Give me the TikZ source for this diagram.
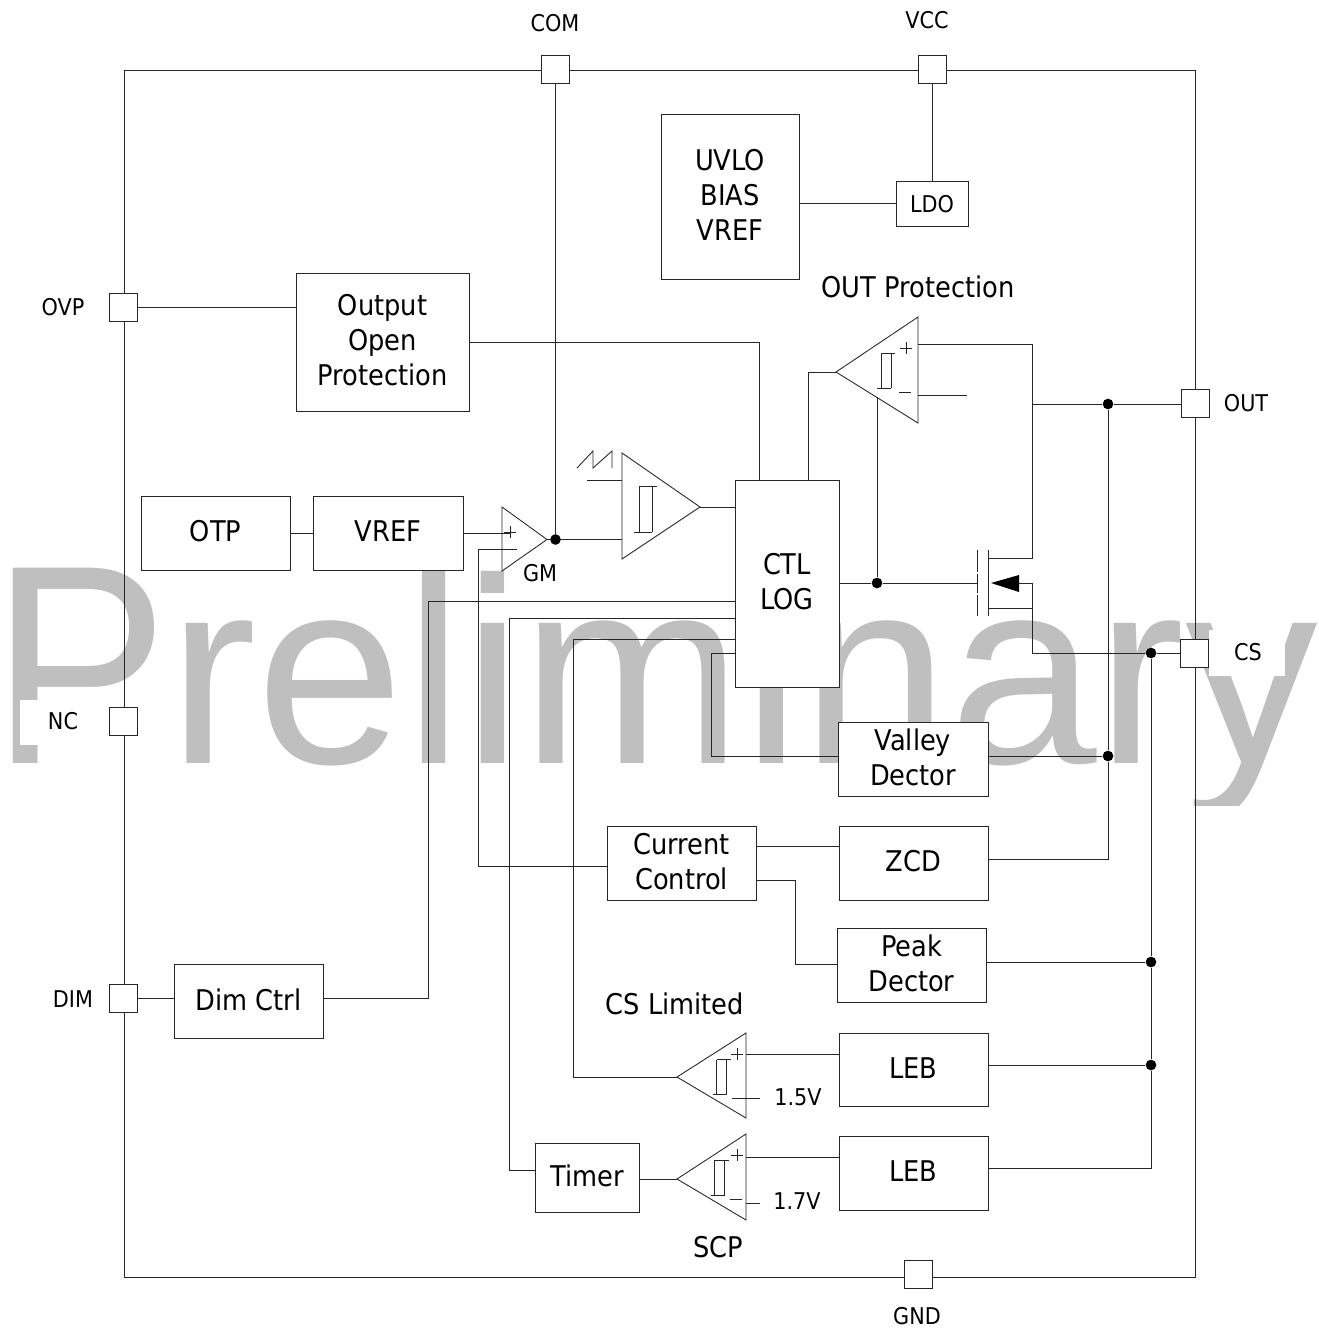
\documentclass[tikz,border=0pt]{standalone}
\usepackage{fontspec}
\setmainfont{DejaVu Sans Condensed}
\newfontfamily\wmfont{Liberation Sans}
\tikzset{
  wire/.style={line width=0.65pt,draw=black!85},
  wh/.style 2 args={minimum width=#1*0.75pt,minimum height=#2*0.75pt},
  blockbox/.style={wire,fill=white,inner sep=0pt,outer sep=0pt,align=center,text depth=2.5pt,font=\fontsize{21.4}{26.2}\selectfont},
  pinbox/.style={wire,fill=white,inner sep=0pt,outer sep=0pt,minimum size=21pt},
  pinlabel/.style={inner sep=0pt,font=\fontsize{17.3}{20}\selectfont},
  bigabel/.style={inner sep=0pt,font=\fontsize{21.4}{24}\selectfont},
  dotnode/.style={circle,fill=black,inner sep=0pt,minimum size=8pt},
  comparator/.style={wire,fill=white},
  hyst/.pic={
    \draw[wire] (-5,-17.5) -- (9,-17.5);
    \draw[wire] (-5,-17.5) -- (-5,17.5);
    \draw[wire] (5,-17.5) -- (5,17.5);
    \draw[wire] (-9,17.5) -- (5,17.5);
  },
  plussign/.pic={\draw[wire] (-6,0) -- (6,0) (0,-6) -- (0,6);},
  minussign/.pic={\draw[wire] (-6,0) -- (6,0);}
}
\begin{document}
\begin{tikzpicture}[x=0.75pt,y=-0.75pt]
  \useasboundingbox (0,0) rectangle (1318,1330);
  \begin{scope}
    \clip (0,0) rectangle (1318,805);
    \node[anchor=base west,inner sep=0pt,text=black!25,font=\wmfont\fontsize{199}{199}\selectfont] (watermark) at (-9,763) {\scalebox{1}[1.07]{P}reliminary};
  \end{scope}
  % chip outline and pins
  \node[wire,inner sep=0pt,outer sep=0pt,wh={1071}{1207}] (chip) at (659.5,673.5) {};
  \node[fill=white,inner sep=0pt,wh={90}{45}] (ncback) at (65,722.5) {};
  \node[fill=white,inner sep=0pt,wh={76}{46}] (csback) at (1247,653) {};
  \node[pinbox] (pincom) at (555.5,69) {};
  \node[pinbox] (pinvcc) at (932,69) {};
  \node[pinbox] (pinovp) at (123.5,307) {};
  \node[pinbox] (pinnc) at (123.5,721.5) {};
  \node[pinbox] (pindim) at (123.5,998) {};
  \node[pinbox] (pinout) at (1195,403.5) {};
  \node[pinbox] (pincs) at (1194.5,653) {};
  \node[pinbox] (pingnd) at (918,1274) {};
  \node[pinlabel] (lblcom) at (555,23) {COM};
  \node[pinlabel] (lblvcc) at (927,20) {VCC};
  \node[pinlabel] (lblovp) at (63,307) {OVP};
  \node[pinlabel] (lblnc) at (63,721) {NC};
  \node[pinlabel] (lbldim) at (73,999) {DIM};
  \node[pinlabel] (lblout) at (1246,403) {OUT};
  \node[pinlabel] (lblcs) at (1248,652) {CS};
  \node[pinlabel] (lblgnd) at (917,1316) {GND};
  % blocks
  \node[blockbox,draw,wh={138}{165}] (uvlo) at (730,196.5) {UVLO\\BIAS\\VREF};
  \node[blockbox,draw,wh={72}{45},text depth=0pt,font=\fontsize{17.3}{20}\selectfont] (ldo) at (932,203.5) {LDO};
  \node[blockbox,draw,wh={173}{138}] (outopen) at (382.5,342) {Output\\Open\\Protection};
  \node[blockbox,draw,wh={149}{74}] (otp) at (215.5,533) {OTP};
  \node[blockbox,draw,wh={150}{74}] (vref) at (388,533) {VREF};
  \node[blockbox,draw,wh={104}{207}] (ctl) at (787,583.5) {CTL\\LOG};
  \node[blockbox,draw,wh={150}{74}] (valley) at (913,759) {Valley\\Dector};
  \node[blockbox,draw,wh={149}{74}] (current) at (681.5,863) {Current\\Control};
  \node[blockbox,draw,wh={149}{74}] (zcd) at (913.5,863) {ZCD};
  \node[blockbox,draw,wh={149}{74}] (peak) at (911.5,965) {Peak\\Dector};
  \node[blockbox,draw,wh={149}{74}] (dimctrl) at (248.5,1001) {Dim Ctrl};
  \node[blockbox,draw,wh={149}{73}] (leba) at (913.5,1069.5) {LEB};
  \node[blockbox,draw,wh={149}{74}] (lebb) at (913.5,1173) {LEB};
  \node[blockbox,draw,wh={104}{69}] (timer) at (587,1177.5) {Timer};
  % comparators
  \coordinate (gmtip) at (547,539.5);
  \coordinate (ramptip) at (700,507);
  \coordinate (prottip) at (836,372);
  \coordinate (limtip) at (677,1077);
  \coordinate (scptip) at (677,1179);
  \draw[comparator] (502,507) -- (502,571) -- (gmtip) -- cycle;
  \draw[comparator] (622,453) -- (622,559) -- (ramptip) -- cycle;
  \draw[comparator] (918,317) -- (918,423) -- (prottip) -- cycle;
  \draw[comparator] (746,1033) -- (746,1118) -- (limtip) -- cycle;
  \draw[comparator] (746,1134) -- (746,1220) -- (scptip) -- cycle;
  \pic[scale=1.29] at (645.5,509.5) {hyst};
  \pic at (886,370.5) {hyst};
  \pic at (721.5,1077) {hyst};
  \pic at (719.5,1177.5) {hyst};
  \pic at (510,532) {plussign};
  \pic at (511,549) {minussign};
  \pic at (906,348) {plussign};
  \pic at (905,392) {minussign};
  \pic at (737,1054) {plussign};
  \pic at (738,1098) {minussign};
  \pic at (737,1155) {plussign};
  \pic at (736,1199) {minussign};
  % sawtooth
  \draw[wire] (577,468) -- (593,451) -- (593,468) -- (612,451) -- (612,468);
  % junctions
  \node[dotnode] (gmdot) at (555.5,539.5) {};
  \node[dotnode] (gatedot) at (877,583) {};
  \node[dotnode] (outdot) at (1108,404) {};
  \node[dotnode] (valleydot) at (1108,756) {};
  \node[dotnode] (csdot) at (1151,653) {};
  \node[dotnode] (peakdot) at (1151,962) {};
  \node[dotnode] (lebadot) at (1151,1065) {};
  % mosfet
  \coordinate (gate) at (977,583);
  \coordinate (drain) at (988,558);
  \coordinate (source) at (988,608);
  \coordinate (bodytip) at (991,583);
  \coordinate (bodybase) at (1019,583);
  \coordinate (mosnode) at (1032,404);
  \draw[wire] (977,550) -- (977,572) (977,574) -- (977,593) (977,595) -- (977,616);
  \draw[wire] (988,550) -- (988,616);
  \fill (bodytip) -- (1019,575) -- (1019,592) -- cycle;
  % connectors
  \coordinate (ctla) at (735,601);
  \coordinate (ctlb) at (735,618);
  \coordinate (ctlc) at (735,639);
  \coordinate (ctld) at (735,653);
  \coordinate (ctlnorthl) at (759,480);
  \coordinate (ctlnorthr) at (808,480);
  \coordinate (protplus) at (918,344);
  \coordinate (protminus) at (918,395);
  \coordinate (protsupply) at (877,397);
  \draw[wire] (pincom.south) -- (gmdot);
  \draw[wire] (pinvcc.south) -- (ldo.north);
  \draw[wire] (uvlo.east |- ldo.west) -- (ldo.west);
  \draw[wire] (pinovp.east) -- (pinovp.east -| outopen.west);
  \draw[wire] (outopen.east) -| (ctlnorthl);
  \draw[wire] (otp.east) -- (vref.west);
  \draw[wire] (vref.east) -- (510,533);
  \draw[wire] (gmtip) -- (gmdot) -- (622,539.5);
  \draw[wire] (587,480) -- (622,480);
  \draw[wire] (ramptip) -- (ramptip -| ctl.west);
  \draw[wire] (prottip) -| (ctlnorthr);
  \draw[wire] (protsupply) -- (gatedot);
  \draw[wire] (ctl.east |- gate) -- (gatedot) -- (gate);
  \draw[wire] (protplus) -| (drain -| mosnode) -- (drain);
  \draw[wire] (protminus) -- ++(49,0);
  \draw[wire] (mosnode) -- (outdot) -- (outdot -| pinout.west);
  \draw[wire] (bodybase) -- ++(13,0) |- (csdot);
  \draw[wire] (source) -- (source -| mosnode);
  \draw[wire] (csdot) -- (pincs.west);
  \draw[wire] (outdot) -- (valleydot) |- (zcd.east |- 0,859);
  \draw[wire] (valley.east |- valleydot) -- (valleydot);
  \draw[wire] (csdot) -- (peakdot) -- (lebadot) |- (lebb.east |- 0,1168);
  \draw[wire] (peak.east |- peakdot) -- (peakdot);
  \draw[wire] (leba.east |- lebadot) -- (lebadot);
  \draw[wire] (pindim.east) -- (pindim.east -| dimctrl.west);
  \draw[wire] (dimctrl.east |- pindim) -- ++(105,0) |- (ctla);
  \draw[wire] (ctlb) -- ++(-226,0) |- (timer.west |- 0,1170);
  \draw[wire] (ctlc) -- ++(-162,0) |- (limtip);
  \draw[wire] (ctld) -- ++(-24,0) |- (valley.west |- valleydot);
  \draw[wire] (511,549) -- (478,549) |- (current.west |- 0,866);
  \draw[wire] (current.east |- 0,846) -- (zcd.west |- 0,846);
  \draw[wire] (current.east |- 0,880) -- ++(39,0) |- (peak.west |- 0,964);
  \draw[wire] (leba.west |- 0,1054) -- (746,1054);
  \draw[wire] (lebb.west |- 0,1157) -- (746,1157);
  \draw[wire] (timer.east |- scptip) -- (scptip);
  \draw[wire] (738,1098) -- (760,1098);
  \draw[wire] (746,1203) -- (760,1203);
  % remaining labels
  \node[pinlabel] (lblgm) at (540,573) {GM};
  \node[pinlabel] (lblonefive) at (798,1097) {1.5V};
  \node[pinlabel] (lbloneseven) at (797,1201) {1.7V};
  \node[bigabel] (lblprot) at (918,287) {OUT Protection};
  \node[bigabel] (lbllimit) at (675,1004) {CS Limited};
  \node[bigabel] (lblscp) at (718,1247) {SCP};
\end{tikzpicture}
\end{document}
